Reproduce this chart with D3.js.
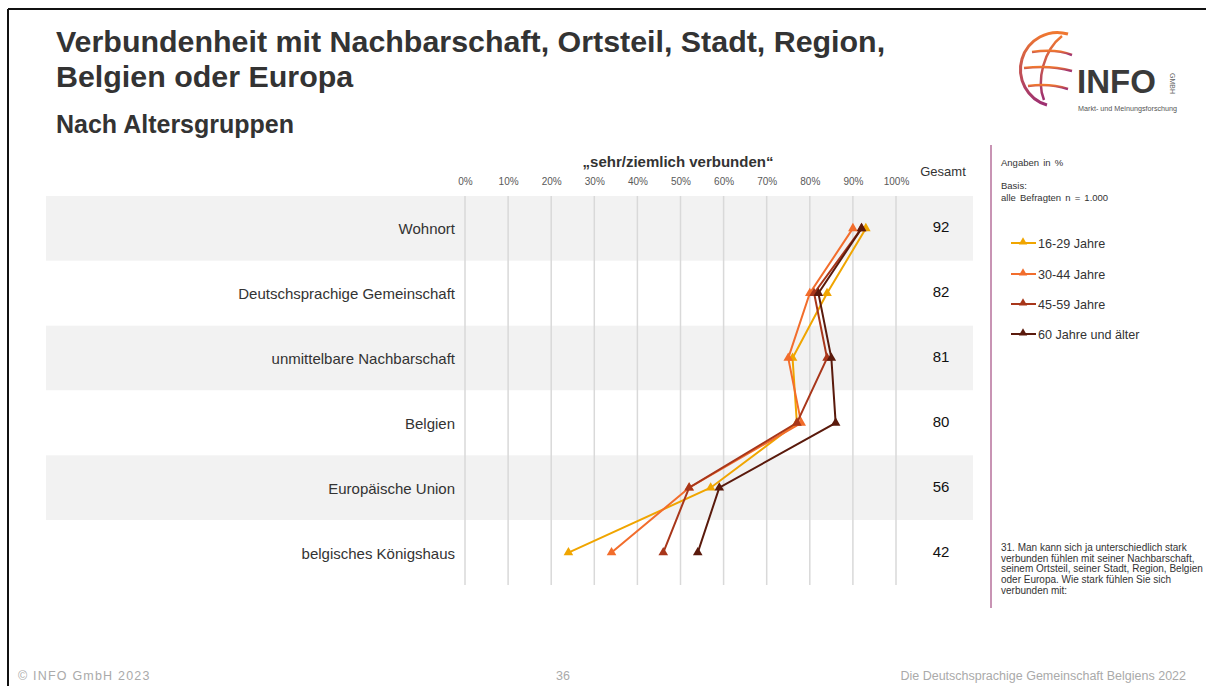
<!DOCTYPE html>
<html>
<head>
<meta charset="utf-8">
<script src="https://cdn.jsdelivr.net/npm/d3@7"></script>
<style>
  body { margin: 0; background: #fff; }
  svg { display: block; font-family: "Liberation Sans", Arial, sans-serif; }
</style>
</head>
<body>
<svg id="chart" width="1206" height="686"></svg>
<script>
// data
var categories = ["Wohnort", "Deutschsprachige Gemeinschaft", "unmittelbare Nachbarschaft",
    "Belgien", "Europäische Union", "belgisches Königshaus"];
var gesamt = [92, 82, 81, 80, 56, 42];
var seriesNames = ["16-29 Jahre", "30-44 Jahre", "45-59 Jahre", "60 Jahre und älter"];
var age1629 = [93, 84, 76, 77, 57, 24];
var age3044 = [90, 80, 75, 78, 52, 34];
var age4559 = [92, 81, 84, 77, 52, 46];
var age60 = [92, 82, 85, 86, 59, 54];
var ticks = [0, 10, 20, 30, 40, 50, 60, 70, 80, 90, 100];
var colors = ["#f0a500", "#f26d2c", "#a8361a", "#5a1a0c"];

var allSeries = [age1629, age3044, age4559, age60];

var svg = d3.select("#chart");

// frame
svg.append("line").attr("x1", 8).attr("y1", 9).attr("x2", 1206).attr("y2", 9)
    .attr("stroke", "#111").attr("stroke-width", 2);
svg.append("line").attr("x1", 8).attr("y1", 9).attr("x2", 8).attr("y2", 686)
    .attr("stroke", "#111").attr("stroke-width", 2);

// titles
svg.append("text").attr("x", 56).attr("y", 52).attr("font-size", 30.4).attr("font-weight", "bold")
    .attr("fill", "#333").text("Verbundenheit mit Nachbarschaft, Ortsteil, Stadt, Region,");
svg.append("text").attr("x", 56).attr("y", 87).attr("font-size", 30.4).attr("font-weight", "bold")
    .attr("fill", "#333").text("Belgien oder Europa");
svg.append("text").attr("x", 56).attr("y", 133).attr("font-size", 25).attr("font-weight", "bold")
    .attr("fill", "#333").text("Nach Altersgruppen");

// logo
var logo = svg.append("g");
var grad = svg.append("defs").append("linearGradient").attr("id", "lg")
    .attr("x1", 0).attr("y1", 0).attr("x2", 0).attr("y2", 1);
grad.append("stop").attr("offset", "0%").attr("stop-color", "#f07830");
grad.append("stop").attr("offset", "100%").attr("stop-color", "#9c2f72");
logo.append("path").attr("d", "M1068,34 A37,37 0 0 0 1047,105")
    .attr("fill", "none").attr("stroke", "url(#lg)").attr("stroke-width", 3);
logo.append("path").attr("d", "M1062,36 C1044,50 1036,80 1044,100")
    .attr("fill", "none").attr("stroke", "url(#lg)").attr("stroke-width", 2.5);
logo.append("path").attr("d", "M1032,52 C1046,50 1062,51 1072,55")
    .attr("fill", "none").attr("stroke", "url(#lg)").attr("stroke-width", 2.5);
logo.append("path").attr("d", "M1024,68 C1040,66 1058,67 1072,71")
    .attr("fill", "none").attr("stroke", "url(#lg)").attr("stroke-width", 2.5);
logo.append("path").attr("d", "M1028,86 C1042,84 1056,85 1068,89")
    .attr("fill", "none").attr("stroke", "url(#lg)").attr("stroke-width", 2.5);
logo.append("text").attr("x", 1077).attr("y", 93).attr("font-size", 33).attr("font-weight", "bold")
    .attr("fill", "#3a3a3a").text("INFO");
logo.append("text").attr("transform", "translate(1170,73) rotate(90)").attr("font-size", 7)
    .attr("fill", "#666").text("GMBH");
logo.append("text").attr("x", 1078).attr("y", 111).attr("font-size", 7.2)
    .attr("fill", "#555").text("Markt- und Meinungsforschung");

// scales
var x = d3.scaleLinear().domain([0, 100]).range([465, 896]);
var y = d3.scaleBand().domain(categories).range([196, 585]);

// bands
svg.append("g").selectAll("rect").data(categories).enter().append("rect")
    .attr("x", 46).attr("width", 927)
    .attr("y", function (d) { return y(d); })
    .attr("height", y.bandwidth())
    .attr("fill", function (d, i) { return i % 2 == 0 ? "#f2f2f2" : "#fff"; });

// grid
svg.append("g").selectAll("line").data(ticks).enter().append("line")
    .attr("x1", function (d) { return x(d); }).attr("x2", function (d) { return x(d); })
    .attr("y1", 196).attr("y2", 585)
    .attr("stroke", "#d9d9d9").attr("stroke-width", 1.5);

// x axis
var xAxis = svg.append("g").attr("transform", "translate(0,188)")
    .call(d3.axisTop(x).tickValues(ticks).tickSize(0).tickFormat(function (d) { return d + "%"; }));
xAxis.select(".domain").remove();
xAxis.selectAll("text").attr("font-size", 10).attr("fill", "#595959")
    .attr("font-family", "'Liberation Sans', Arial");

svg.append("text").attr("x", 678).attr("y", 167).attr("text-anchor", "middle")
    .attr("font-size", 15).attr("font-weight", "bold").attr("fill", "#333")
    .text("„sehr/ziemlich verbunden“");

// category labels
svg.append("g").selectAll("text").data(categories).enter().append("text")
    .attr("x", 455).attr("y", function (d) { return y(d) + y.bandwidth() / 2 + 6; })
    .attr("text-anchor", "end").attr("font-size", 15).attr("fill", "#333")
    .text(function (d) { return d; });

// gesamt
svg.append("text").attr("x", 943).attr("y", 176).attr("text-anchor", "middle")
    .attr("font-size", 13).attr("fill", "#333").text("Gesamt");
svg.append("g").selectAll("text").data(gesamt).enter().append("text")
    .attr("x", 941).attr("y", function (d, i) { return y(categories[i]) + y.bandwidth() / 2 + 4; })
    .attr("text-anchor", "middle").attr("font-size", 15).attr("fill", "#111")
    .text(function (d) { return d; });

// lines
var line = d3.line()
    .x(function (d) { return x(d); })
    .y(function (d, i) { return y(categories[i]) + y.bandwidth() / 2; });
var tri = d3.symbol().type(d3.symbolTriangle).size(40);

for (var s = 0; s < allSeries.length; s++) {
    svg.append("path").datum(allSeries[s]).attr("d", line)
        .attr("fill", "none").attr("stroke", colors[s]).attr("stroke-width", 2);
    svg.append("g").selectAll("path").data(allSeries[s]).enter().append("path")
        .attr("d", tri)
        .attr("transform", function (d, i) {
            return "translate(" + x(d) + "," + (y(categories[i]) + y.bandwidth() / 2) + ")";
        })
        .attr("fill", colors[s]);
}

// right panel
svg.append("line").attr("x1", 991).attr("x2", 991).attr("y1", 145).attr("y2", 608)
    .attr("stroke", "#c894b4").attr("stroke-width", 2);
var small = [["Angaben in %", 166], ["Basis:", 189], ["alle Befragten  n = 1.000", 201]];
svg.append("g").selectAll("text").data(small).enter().append("text")
    .attr("x", 1001).attr("y", function (d) { return d[1]; })
    .attr("font-size", 9.5).attr("word-spacing", 1.5).attr("fill", "#333")
    .text(function (d) { return d[0]; });

var legend = svg.append("g").selectAll("g").data(seriesNames).enter().append("g")
    .attr("transform", function (d, i) { return "translate(0," + [243, 274, 304, 334][i] + ")"; });
legend.append("line").attr("x1", 1011).attr("x2", 1036).attr("y1", 0).attr("y2", 0)
    .attr("stroke", function (d, i) { return colors[i]; }).attr("stroke-width", 2);
legend.append("path").attr("d", d3.symbol().type(d3.symbolTriangle).size(30))
    .attr("transform", "translate(1023,-1)")
    .attr("fill", function (d, i) { return colors[i]; });
legend.append("text").attr("x", 1038).attr("y", 4.5).attr("font-size", 12.6).attr("fill", "#333")
    .text(function (d) { return d; });

var note = ["31. Man kann sich ja unterschiedlich stark",
    "verbunden fühlen mit seiner Nachbarschaft,",
    "seinem Ortsteil, seiner Stadt, Region, Belgien",
    "oder Europa. Wie stark fühlen Sie sich",
    "verbunden mit:"];
svg.append("g").selectAll("text").data(note).enter().append("text")
    .attr("x", 1001).attr("y", function (d, i) { return 551 + i * 10.7; })
    .attr("font-size", 10).attr("fill", "#333")
    .text(function (d) { return d; });

// footer
var foot = svg.append("g").attr("font-size", 12.5).attr("fill", "#aaa");
foot.append("text").attr("x", 18).attr("y", 680).attr("letter-spacing", 1.2).text("© INFO GmbH 2023");
foot.append("text").attr("x", 563).attr("y", 680).attr("text-anchor", "middle").text("36");
foot.append("text").attr("x", 1186).attr("y", 680).attr("text-anchor", "end")
    .text("Die Deutschsprachige Gemeinschaft Belgiens 2022");
</script>
</body>
</html>
